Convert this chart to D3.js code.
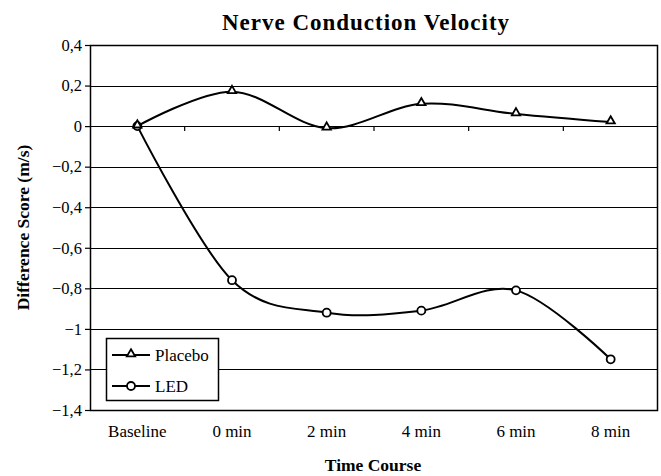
<!DOCTYPE html>
<html>
<head>
<meta charset="utf-8">
<script src="https://cdn.jsdelivr.net/npm/d3@7/dist/d3.min.js"></script>
<style>
  body { margin: 0; background: #fff; }
  text { font-family: "Liberation Serif", "DejaVu Serif", serif; fill: #000; }
</style>
</head>
<body>
<div id="chart"></div>
<script>
var categories = ["Baseline", "0 min", "2 min", "4 min", "6 min", "8 min"];
var placebo = [0, 0.17, -0.01, 0.11, 0.06, 0.02];
var led = [0, -0.76, -0.92, -0.91, -0.81, -1.15];
var yTicks = [0.4, 0.2, 0, -0.2, -0.4, -0.6, -0.8, -1, -1.2, -1.4];

var width = 661,
	height = 476,
	margin = { top: 45, right: 3, bottom: 66, left: 90 };

var svg = d3.select("#chart").append("svg")
	.attr("width", width)
	.attr("height", height);

var x = d3.scaleBand()
	.domain(categories)
	.range([margin.left, width - margin.right]);

var y = d3.scaleLinear()
	.domain([-1.4, 0.4])
	.range([height - margin.bottom, margin.top]);

var fmt = function(d) { return d3.format("")(+d.toFixed(1)).replace(".", ","); };

// gridlines
svg.append("g")
	.selectAll("line")
	.data(yTicks)
	.enter().append("line")
	.attr("x1", margin.left)
	.attr("x2", width - margin.right)
	.attr("y1", function(d) { return Math.round(y(d)) + 0.5; })
	.attr("y2", function(d) { return Math.round(y(d)) + 0.5; })
	.attr("stroke", "#000")
	.attr("stroke-width", 1.2);

// y axis
var yAxis = svg.append("g")
	.attr("transform", "translate(" + margin.left + ",0)")
	.call(d3.axisLeft(y).tickValues(yTicks).tickSize(5).tickPadding(3).tickFormat(fmt));
yAxis.select(".domain").remove();
yAxis.selectAll("text")
	.style("font-size", "16.5px");
yAxis.selectAll("line").attr("stroke-width", 1.2);

// plot border
svg.append("rect")
	.attr("x", margin.left + 0.5)
	.attr("y", margin.top + 0.5)
	.attr("width", width - margin.left - margin.right - 1)
	.attr("height", height - margin.top - margin.bottom)
	.attr("fill", "none")
	.attr("stroke", "#000")
	.attr("stroke-width", 1.5);

// x ticks on the zero line, at category boundaries
svg.append("g")
	.selectAll("line")
	.data(categories.slice(1))
	.enter().append("line")
	.attr("x1", function(d) { return x(d); })
	.attr("x2", function(d) { return x(d); })
	.attr("y1", y(0))
	.attr("y2", y(0) + 5)
	.attr("stroke", "#000")
	.attr("stroke-width", 1.2);

// x labels
svg.append("g")
	.selectAll("text")
	.data(categories)
	.enter().append("text")
	.attr("x", function(d) { return x(d) + x.bandwidth() / 2; })
	.attr("y", 437)
	.attr("text-anchor", "middle")
	.style("font-size", "17px")
	.text(function(d) { return d; });

var line = d3.line()
	.x(function(d, i) { return x(categories[i]) + x.bandwidth() / 2; })
	.y(function(d) { return y(d); })
	.curve(d3.curveCardinal.tension(0));

[placebo, led].forEach(function(series) {
	svg.append("path")
		.attr("d", line(series))
		.attr("fill", "none")
		.attr("stroke", "#000")
		.attr("stroke-width", 2);
});

var tri = d3.symbol().type(d3.symbolTriangle).size(30);

function drawMarker(g, type, cx, cy) {
	if (type === "tri") {
		g.append("path")
			.attr("d", tri())
			.attr("transform", "translate(" + cx + "," + (cy - 1) + ")")
			.attr("fill", "#fff")
			.attr("stroke", "#000")
			.attr("stroke-width", 1.8);
	} else {
		g.append("circle")
			.attr("cx", cx)
			.attr("cy", cy)
			.attr("r", 4)
			.attr("fill", "#fff")
			.attr("stroke", "#000")
			.attr("stroke-width", 1.8);
	}
}

var markers = svg.append("g");
led.forEach(function(v, i) {
	drawMarker(markers, "circ", x(categories[i]) + x.bandwidth() / 2, y(v));
});
placebo.forEach(function(v, i) {
	drawMarker(markers, "tri", x(categories[i]) + x.bandwidth() / 2, y(v));
});

// legend
var legend = svg.append("g").attr("transform", "translate(106,338)");
legend.append("rect")
	.attr("x", 0.5).attr("y", 0.5)
	.attr("width", 112).attr("height", 62)
	.attr("fill", "#fff")
	.attr("stroke", "#000")
	.attr("stroke-width", 1.5);
[["Placebo", "tri", 17], ["LED", "circ", 48]].forEach(function(item) {
	legend.append("line")
		.attr("x1", 6).attr("x2", 44)
		.attr("y1", item[2]).attr("y2", item[2])
		.attr("stroke", "#000")
		.attr("stroke-width", 2);
	drawMarker(legend, item[1], 25, item[2]);
	legend.append("text")
		.attr("x", 49)
		.attr("y", item[2] + 6)
		.style("font-size", "17px")
		.text(item[0]);
});

// titles
svg.append("text")
	.attr("x", 366)
	.attr("y", 30)
	.attr("text-anchor", "middle")
	.style("font-size", "23px")
	.style("letter-spacing", "1px")
	.style("font-weight", "bold")
	.text("Nerve Conduction Velocity");

svg.append("text")
	.attr("x", 373)
	.attr("y", 471)
	.attr("text-anchor", "middle")
	.style("font-size", "17.5px")
	.style("font-weight", "bold")
	.text("Time Course");

svg.append("text")
	.attr("transform", "translate(29," + ((margin.top + height - margin.bottom) / 2) + ") rotate(-90)")
	.attr("text-anchor", "middle")
	.style("font-size", "17.5px")
	.style("font-weight", "bold")
	.text("Difference Score (m/s)");
</script>
</body>
</html>
